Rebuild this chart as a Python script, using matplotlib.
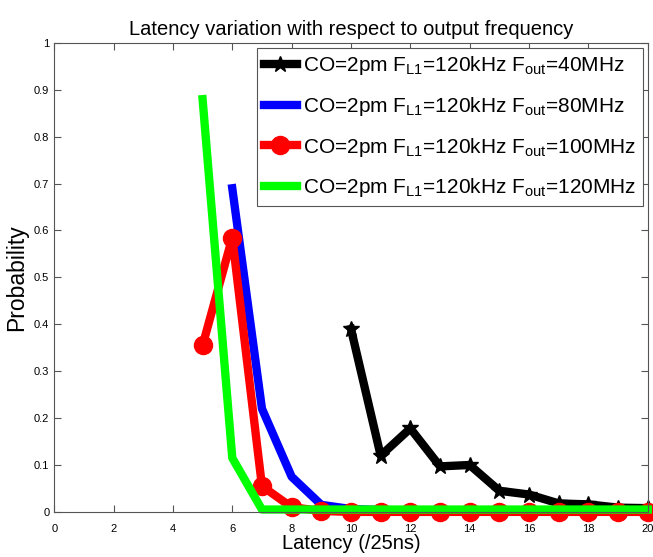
import matplotlib
matplotlib.use("Agg")
import matplotlib.pyplot as plt

plt.rcParams['font.family'] = ['Liberation Sans', 'DejaVu Sans']
plt.rcParams['mathtext.fontset'] = 'custom'
plt.rcParams['mathtext.rm'] = 'Liberation Sans'

# latency bins (/25ns) and probabilities for each output frequency
x_40 = [10, 11, 12, 13, 14, 15, 16, 17, 18, 19, 20]
p_40 = [0.39, 0.12, 0.178, 0.097, 0.10, 0.045, 0.037, 0.018, 0.016, 0.009, 0.008]

x_80 = [6, 7, 8, 9, 10, 11, 12, 13, 14, 15, 16, 17, 18, 19, 20]
p_80 = [0.69, 0.22, 0.075, 0.015, 0.006, 0.004, 0.003, 0.002, 0.002, 0.002, 0.002, 0.002, 0.002, 0.002, 0.002]

x_100 = [5, 6, 7, 8, 9, 10, 11, 12, 13, 14, 15, 16, 17, 18, 19, 20]
p_100 = [0.355, 0.585, 0.055, 0.01, 0.002, 0, 0, 0, 0, 0, 0, 0, 0, 0, 0, 0]

x_120 = [5, 6, 7, 8, 9, 10, 11, 12, 13, 14, 15, 16, 17, 18, 19, 20]
p_120 = [0.88, 0.115, 0.005, 0.005, 0.005, 0.005, 0.005, 0.005, 0.005, 0.005, 0.005, 0.005, 0.005, 0.005, 0.005, 0.005]

freqs = ['40', '80', '100', '120']
labels = ['CO=2pm F$_{\\mathregular{L1}}$=120kHz F$_{\\mathregular{out}}$=%sMHz' % f for f in freqs]

fig = plt.figure(figsize=(6.53, 5.57), dpi=100)
ax = fig.add_axes([0.083, 0.081, 0.909, 0.842])

ax.plot(x_40, p_40, color='black', lw=6, marker='*', ms=12, clip_on=False, label=labels[0])
ax.plot(x_80, p_80, color='blue', lw=6, marker='.', ms=6, clip_on=False, label=labels[1])
ax.plot(x_100, p_100, color='red', lw=6, marker='o', ms=13, clip_on=False, label=labels[2])
ax.plot(x_120, p_120, color='#00ff00', lw=6, clip_on=False, label=labels[3])

ax.set_xlim(0, 20)
ax.set_ylim(0, 1)
ax.set_xticks(range(0, 21, 2))
ax.set_yticks([i / 10 for i in range(11)])
ax.set_yticklabels(['0'] + ['%g' % (i / 10) for i in range(1, 11)])
ax.tick_params(direction='in', top=True, right=True, labelsize=8, length=5,
               color='#555555')
ax.tick_params(axis='x', pad=9)
for s in ax.spines.values():
    s.set_linewidth(0.8)
    s.set_color('#555555')

ax.set_title('Latency variation with respect to output frequency', fontsize=14.5)
ax.set_xlabel('Latency (/25ns)', fontsize=14.5, labelpad=0)
ax.set_ylabel('Probability', fontsize=16.5, labelpad=4)

leg = ax.legend(loc='upper right', fontsize=15, fancybox=False, framealpha=1,
                edgecolor='#555555', handlelength=1.6, borderaxespad=0.25,
                handletextpad=0.3, labelspacing=0.85, borderpad=0.3)
leg.get_frame().set_linewidth(0.8)

fig.savefig('out.png', dpi=100)
